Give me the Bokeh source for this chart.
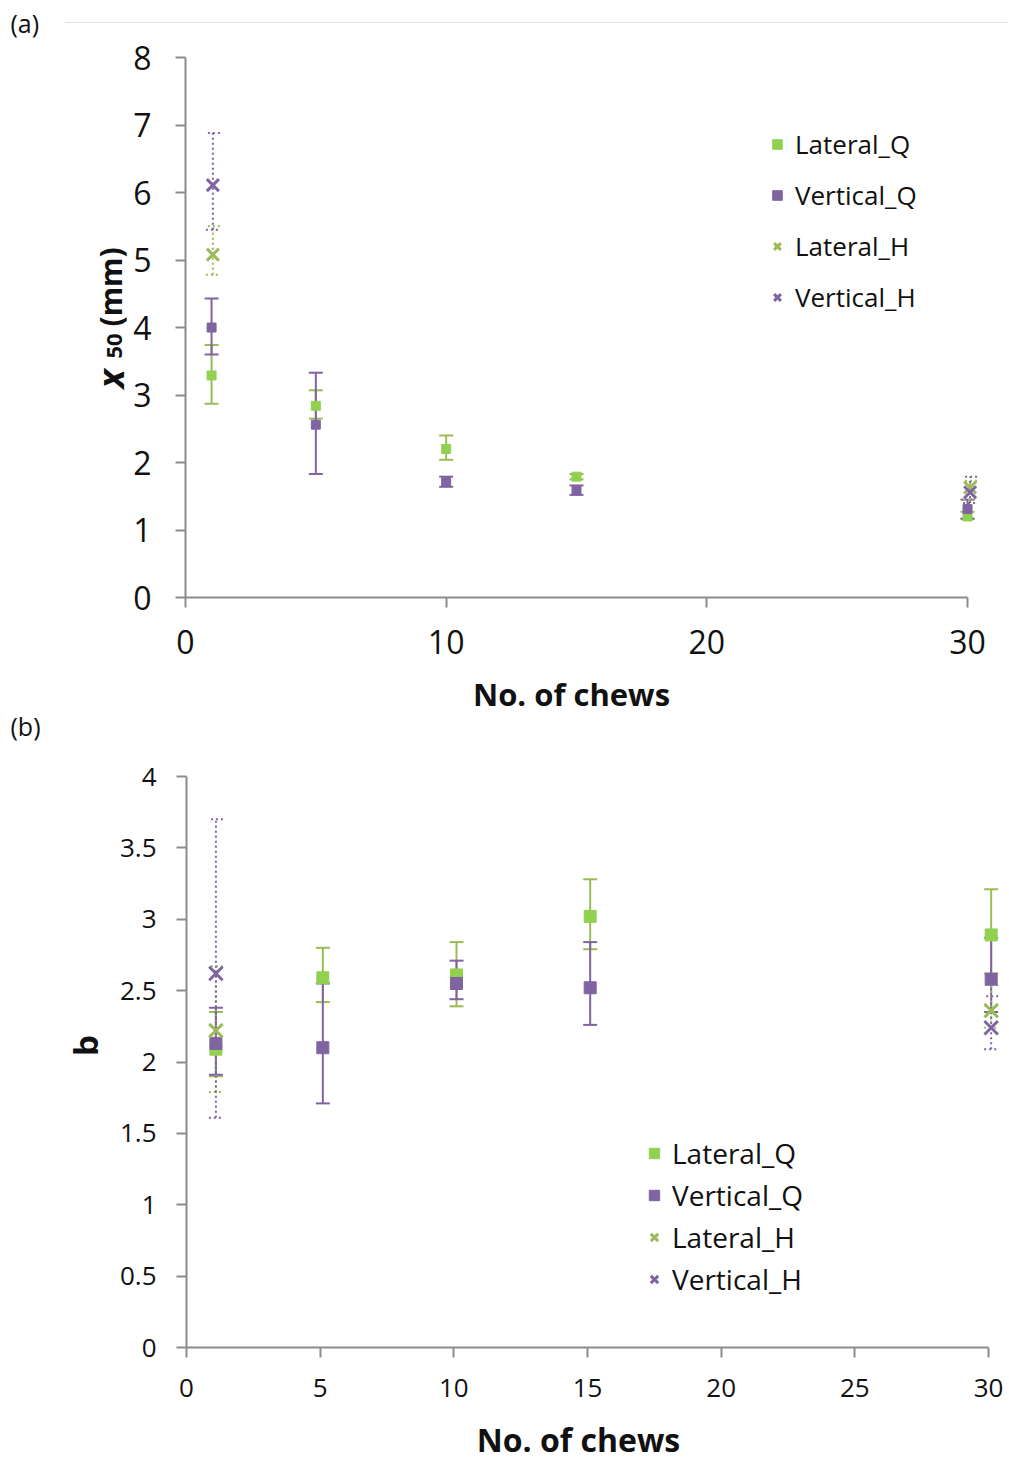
from math import pi
from bokeh.plotting import figure
from bokeh.models import (ColumnDataSource, Whisker, TeeHead, Label, BoxAnnotation, LinearAxis,
                          Legend, LegendItem, FixedTicker, NumeralTickFormatter, Range1d)
from bokeh.embed import file_html
from bokeh.resources import INLINE

# ---------------- data: (a) x50 (mm) ----------------
a_x_q = [1, 5, 10, 15, 30]
a_x_h = [1.05, 30.1]
a_latq = [3.29, 2.84, 2.20, 1.79, 1.20]
a_latq_lo = [2.87, 2.65, 2.04, 1.75, 1.16]
a_latq_hi = [3.74, 3.07, 2.40, 1.83, 1.27]
a_verq = [4.00, 2.56, 1.71, 1.59, 1.31]
a_verq_lo = [3.60, 1.83, 1.64, 1.52, 1.17]
a_verq_hi = [4.43, 3.33, 1.79, 1.66, 1.45]
a_lath = [5.08, 1.63]
a_lath_lo = [4.78, 1.45]
a_lath_hi = [5.50, 1.73]
a_verh = [6.11, 1.56]
a_verh_lo = [5.45, 1.40]
a_verh_hi = [6.88, 1.79]

# ---------------- data: (b) b ----------------
b_x_q = [1.1, 5.1, 10.1, 15.1, 30.1]
b_x_h = [1.1, 30.1]
b_latq = [2.09, 2.59, 2.61, 3.02, 2.89]
b_latq_lo = [1.90, 2.42, 2.39, 2.79, 2.62]
b_latq_hi = [2.35, 2.80, 2.84, 3.28, 3.21]
b_verq = [2.13, 2.10, 2.55, 2.52, 2.58]
b_verq_lo = [1.91, 1.71, 2.44, 2.26, 2.35]
b_verq_hi = [2.38, 2.55, 2.71, 2.84, 2.87]
b_lath = [2.22, 2.36]
b_lath_lo = [1.79, 2.24]
b_lath_hi = [2.67, 2.54]
b_verh = [2.62, 2.24]
b_verh_lo = [1.61, 2.09]
b_verh_hi = [3.70, 2.46]

a_xticks = [0, 10, 20, 30]
a_yticks = [0, 1, 2, 3, 4, 5, 6, 7, 8]
b_xticks = [0, 5, 10, 15, 20, 25, 30]
b_yticks = [0, 0.5, 1, 1.5, 2, 2.5, 3, 3.5, 4]

labels = ["Lateral_Q", "Vertical_Q", "Lateral_H", "Vertical_H"]

FONT = "Open Sans"
GREEN_M = "#92D050"
GREEN_E = "#9BBB59"
PURPLE = "#8064A2"
AXIS = "#8C8C8C"
TXT = "#111111"
DOT = "2 3"

W, H = 1009, 1461

# ---- layout geometry (pixels of the page) ----
A_L, A_X30, A_B, A_T = 185, 967, 597, 57      # panel (a): x=0, x=30, y=0, y=8
B_L, B_X30, B_B, B_T = 186, 988, 1347, 776    # panel (b): x=0, x=30, y=0, y=4

axp = (A_X30 - A_L) / 30.0
ayp = (A_B - A_T) / 8.0
bxp = (B_X30 - B_L) / 30.0
byp = (B_B - B_T) / 4.0

def ax_(px): return (px - A_L) / axp
def ay_(py): return (A_B - py) / ayp
def bx_(px): return (px - B_L) / bxp
def by_(py): return (B_B - py) / byp

# one figure whose frame is the whole page; each panel has its own ranges
p = figure(width=W, height=H, output_backend="svg", toolbar_location=None, title=None,
           x_axis_type=None, y_axis_type=None,
           x_range=Range1d(ax_(0), ax_(W)), y_range=Range1d(ay_(H), ay_(0)),
           min_border=0, min_border_left=0, min_border_right=0,
           min_border_top=0, min_border_bottom=0)
p.extra_x_ranges = {"xb": Range1d(bx_(0), bx_(W))}
p.extra_y_ranges = {"yb": Range1d(by_(H), by_(0))}
p.xgrid.visible = False
p.ygrid.visible = False
p.outline_line_color = None
p.background_fill_color = "white"
p.border_fill_color = "white"

RN = {"a": ("default", "default"), "b": ("xb", "yb")}


def axis_style(ax, size, standoff):
    ax.axis_line_color = AXIS
    ax.axis_line_width = 2
    ax.major_tick_line_color = AXIS
    ax.major_tick_line_width = 2
    ax.major_tick_out = 10
    ax.major_tick_in = 0
    ax.minor_tick_line_color = None
    ax.major_label_text_font = FONT
    ax.major_label_text_font_size = size
    ax.major_label_text_color = TXT
    ax.major_label_standoff = standoff


def add_axes(panel, xticks, yticks, ymax, size, sx, sy, yfmt=None):
    xr, yr = RN[panel]
    xa = LinearAxis(x_range_name=xr, y_range_name=yr, fixed_location=0, bounds=(0, 30),
                    ticker=FixedTicker(ticks=xticks))
    ya = LinearAxis(x_range_name=xr, y_range_name=yr, fixed_location=0, bounds=(0, ymax),
                    ticker=FixedTicker(ticks=yticks))
    if yfmt:
        ya.formatter = NumeralTickFormatter(format=yfmt)
    axis_style(xa, size, sx)
    axis_style(ya, size, sy)
    p.add_layout(xa, "below")
    p.add_layout(ya, "left")


def series(panel, x, y, lo, hi, ecol, mcol, marker, size, dash, cap=14):
    xr, yr = RN[panel]
    src = ColumnDataSource(dict(x=x, y=y, lo=lo, hi=hi))
    w = Whisker(source=src, base="x", lower="lo", upper="hi", dimension="height",
                x_range_name=xr, y_range_name=yr,
                line_color=ecol, line_width=2, line_dash=dash, level="underlay",
                upper_head=TeeHead(size=cap, line_color=ecol, line_width=2, line_dash=dash),
                lower_head=TeeHead(size=cap, line_color=ecol, line_width=2, line_dash=dash))
    p.add_layout(w)
    if marker == "square":
        r = p.scatter("x", "y", source=src, marker="square", size=size,
                      x_range_name=xr, y_range_name=yr,
                      fill_color=mcol, line_color=mcol, line_width=1)
    else:
        r = p.scatter("x", "y", source=src, marker="x", size=size,
                      x_range_name=xr, y_range_name=yr,
                      line_color=mcol, line_width=3)
    return r


def text(x, y, t, size, style="normal", angle=0, align="center", baseline="middle"):
    p.add_layout(Label(x=x, y=y, text=t, angle=angle, text_align=align, text_baseline=baseline,
                       text_font=FONT, text_font_size=size, text_font_style=style,
                       text_color=TXT))


# ======================= panel (a) =======================
add_axes("a", a_xticks, a_yticks, 8, "32px", 22, 24)
r1 = series("a", a_x_q, a_latq, a_latq_lo, a_latq_hi, GREEN_E, GREEN_M, "square", 9, "solid")
r2 = series("a", a_x_q, a_verq, a_verq_lo, a_verq_hi, PURPLE, PURPLE, "square", 9, "solid")
r3 = series("a", a_x_h, a_lath, a_lath_lo, a_lath_hi, GREEN_E, GREEN_E, "x", 17, DOT)
r4 = series("a", a_x_h, a_verh, a_verh_lo, a_verh_hi, PURPLE, PURPLE, "x", 17, DOT)

leg1 = Legend(items=[LegendItem(label=l, renderers=[r]) for l, r in zip(labels, [r1, r2, r3, r4])],
              location=(765, H - 315), border_line_color=None, background_fill_alpha=0,
              padding=0, margin=0, spacing=15, glyph_width=24, glyph_height=36, label_height=36,
              label_standoff=6, label_text_font=FONT, label_text_font_size="26px",
              label_text_color=TXT)
p.add_layout(leg1)

text(ax_(571), ay_(693), "No. of chews", "31px", "bold")
text(ax_(110), ay_(388), "x", "36px", "bold italic", pi / 2, "left", "alphabetic")
text(ax_(114), ay_(358), "50", "22px", "bold", pi / 2, "left", "alphabetic")
text(ax_(110), ay_(326), "(mm)", "30px", "bold", pi / 2, "left", "alphabetic")
text(ax_(10), ay_(22), "(a)", "25px", "normal", 0, "left")
p.add_layout(BoxAnnotation(left=ax_(65), right=ax_(1007), bottom=ay_(22), top=ay_(22),
                           fill_alpha=0, line_color="#C8C8C8", line_width=1))

# ======================= panel (b) =======================
add_axes("b", b_xticks, b_yticks, 4, "26px", 21, 20, yfmt="0.[0]")
s1 = series("b", b_x_q, b_latq, b_latq_lo, b_latq_hi, GREEN_E, GREEN_M, "square", 12, "solid")
s2 = series("b", b_x_q, b_verq, b_verq_lo, b_verq_hi, PURPLE, PURPLE, "square", 12, "solid")
s3 = series("b", b_x_h, b_lath, b_lath_lo, b_lath_hi, GREEN_E, GREEN_E, "x", 19, DOT)
s4 = series("b", b_x_h, b_verh, b_verh_lo, b_verh_hi, PURPLE, PURPLE, "x", 19, DOT)

leg2 = Legend(items=[LegendItem(label=l, renderers=[r]) for l, r in zip(labels, [s1, s2, s3, s4])],
              location=(641, H - 1298), border_line_color=None, background_fill_alpha=0,
              padding=0, margin=0, spacing=4, glyph_width=26, glyph_height=38, label_height=38,
              label_standoff=5, label_text_font=FONT, label_text_font_size="28px",
              label_text_color=TXT)
p.add_layout(leg2)

text(ax_(578), ay_(1439), "No. of chews", "32px", "bold")
text(ax_(85), ay_(1045), "b", "33px", "bold", pi / 2)
text(ax_(10), ay_(725), "(b)", "25px", "normal", 0, "left")

open("out.html", "w").write(file_html(p, INLINE))
